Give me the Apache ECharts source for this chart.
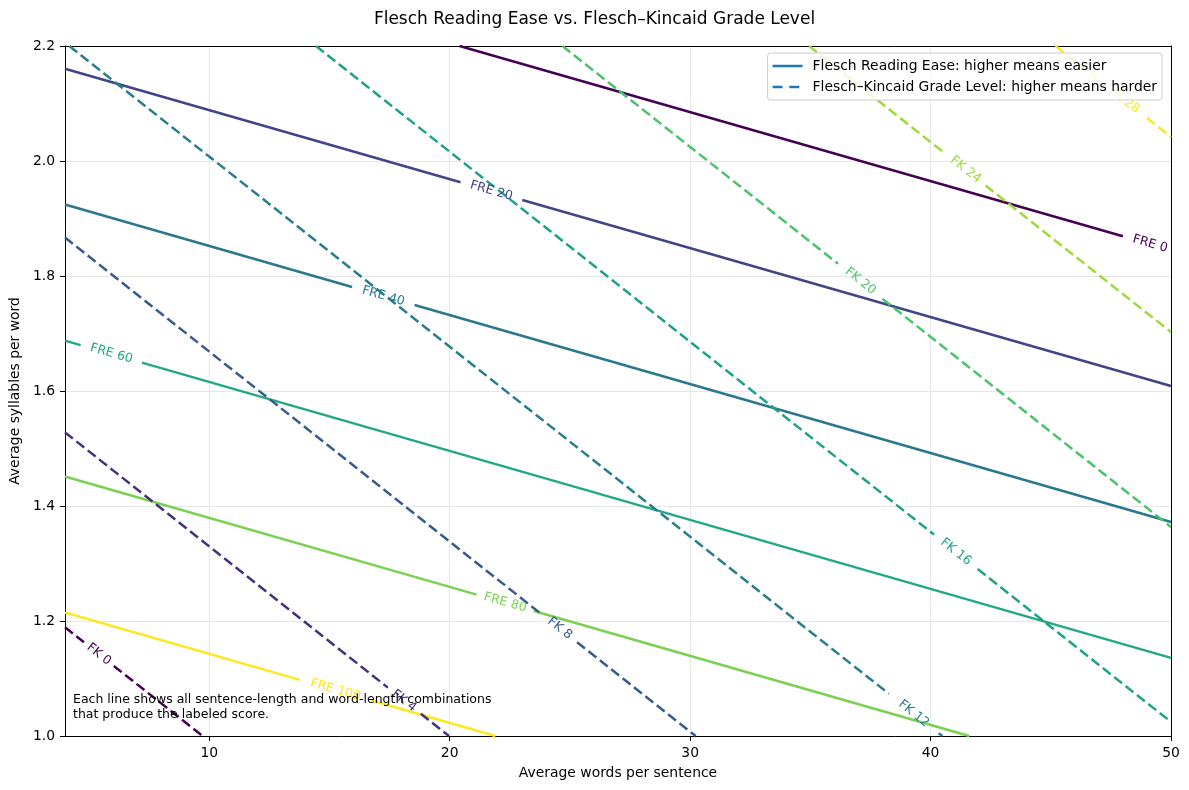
<!DOCTYPE html>
<html lang="en">
<head>
<meta charset="UTF-8">
<title>Flesch Reading Ease vs. Flesch–Kincaid Grade Level</title>
<script src="https://cdn.jsdelivr.net/npm/echarts@6.0.0/dist/echarts.min.js"></script>
<style>
  html, body { margin: 0; padding: 0; background: #fff; }
  #chart { width: 1189px; height: 790px; }
</style>
</head>
<body>
<div id="chart"></div>
<script>
// tick marks on the x axis (axis itself runs from 4 to 50)
var xTicks = [10, 20, 30, 40, 50];

// Flesch Reading Ease contours (solid lines).
// Each line is split where its inline label sits.
var freLabels = ['FRE 0', 'FRE 20', 'FRE 40', 'FRE 60', 'FRE 80', 'FRE 100'];
var freColors = ['#440154', '#414487', '#2a788e', '#22a884', '#7ad151', '#fde725'];
var freSegments = [
    [[[20.41, 2.2], [48.0, 1.869]]],
    [[[4, 2.1605], [20.45, 1.963]], [[23.02, 1.9323], [50, 1.6086]]],
    [[[4, 1.9243], [15.94, 1.7808]], [[18.54, 1.7496], [50, 1.3722]]],
    [[[4, 1.6876], [4.65, 1.6798]], [[7.2, 1.6493], [50, 1.1358]]],
    [[[4, 1.4512], [21.12, 1.2458]], [[23.5, 1.2173], [41.61, 1.0]]],
    [[[4, 1.2148], [13.77, 1.0976]], [[16.72, 1.0622], [21.9, 1.0]]]
];
var freLabelPos = [[49.13, 1.856], [21.73, 1.948], [17.24, 1.765], [5.93, 1.665], [22.31, 1.232], [15.25, 1.080]];

// Flesch–Kincaid Grade Level contours (dashed lines)
var fkLabels = ['FK 0', 'FK 4', 'FK 8', 'FK 12', 'FK 16', 'FK 20', 'FK 24', 'FK 28'];
var fkColors = ['#440154', '#46317e', '#375b8d', '#277f8e', '#1fa188', '#4bc26c', '#a0da39', '#fde725'];
var fkSegments = [
    [[[4, 1.189], [4.79, 1.1629]], [[6.03, 1.1219], [9.72, 1.0]]],
    [[[4, 1.528], [17.43, 1.0841]], [[18.8, 1.0388], [19.97, 1.0]]],
    [[[4, 1.8669], [23.85, 1.2109]], [[25.3, 1.163], [30.23, 1.0]]],
    [[[4.18, 2.2], [38.27, 1.0733]], [[40.34, 1.0049], [40.49, 1.0]]],
    [[[14.44, 2.2], [40.14, 1.3504]], [[41.96, 1.2903], [50, 1.0246]]],
    [[[24.69, 2.2], [36.15, 1.8213]], [[38.0, 1.7602], [50, 1.3636]]],
    [[[34.95, 2.2], [40.63, 2.0122]], [[42.29, 1.9574], [50, 1.7025]]],
    [[[45.2, 2.2], [47.1, 2.1374]], [[49.0, 2.0746], [50, 2.0415]]]
];
var fkLabelPos = [[5.41, 1.142], [18.1, 1.061], [24.58, 1.187], [39.3, 1.039], [41.05, 1.320], [37.08, 1.791], [41.46, 1.985], [48.05, 2.106]];

var freName = 'Flesch Reading Ease: higher means easier';
var fkName = 'Flesch–Kincaid Grade Level: higher means harder';
var noteText = 'Each line shows all sentence-length and word-length combinations\nthat produce the labeled score.';

var FONT = '"DejaVu Sans", "Liberation Sans", sans-serif';
var SOLID = 'solid';
var DASH = [10, 4.5];

var chart = echarts.init(document.getElementById('chart'));

var series = [];
var labelItems = [];

function addContours(segments, colors, texts, positions, dash) {
    segments.forEach(function (segs, i) {
        segs.forEach(function (seg) {
            series.push({
                type: 'line',
                data: seg,
                symbol: 'none',
                silent: true,
                animation: false,
                z: 2,
                lineStyle: { color: colors[i], width: 2.5, type: dash },
                itemStyle: { color: colors[i] }
            });
        });
        // label runs along the line: direction taken from the line's own ends
        var first = segs[0][0];
        var lastSeg = segs[segs.length - 1];
        var last = lastSeg[lastSeg.length - 1];
        labelItems.push({
            value: [positions[i][0], positions[i][1], first[0], first[1], last[0], last[1]],
            text: texts[i],
            color: colors[i]
        });
    });
}

addContours(freSegments, freColors, freLabels, freLabelPos, SOLID);
addContours(fkSegments, fkColors, fkLabels, fkLabelPos, DASH);

// inline contour labels
series.push({
    type: 'custom',
    silent: true,
    animation: false,
    z: 3,
    data: labelItems.map(function (d) { return d.value; }),
    renderItem: function (params, api) {
        var c = api.coord([api.value(0), api.value(1)]);
        var a = api.coord([api.value(2), api.value(3)]);
        var b = api.coord([api.value(4), api.value(5)]);
        var ang = Math.atan2(b[1] - a[1], b[0] - a[0]);
        var item = labelItems[params.dataIndex];
        return {
            type: 'text',
            x: c[0],
            y: c[1],
            rotation: -ang,
            style: {
                text: item.text,
                fill: item.color,
                font: '12.5px ' + FONT,
                align: 'center',
                verticalAlign: 'middle'
            }
        };
    }
});

// empty series only to feed the legend
series.push({
    name: freName, type: 'line', data: [], symbol: 'none',
    itemStyle: { color: '#1f77b4', opacity: 1 },
    lineStyle: { color: '#1f77b4', width: 2.5 }
});
series.push({
    name: fkName, type: 'line', data: [], symbol: 'none',
    itemStyle: { color: '#1f77b4', opacity: 1 },
    lineStyle: { color: '#1f77b4', width: 2.5 }
});

// frame lines on the top and right sides, drawn above the grid lines
var frameAxis = {
    axisLine: { show: true, lineStyle: { color: '#000', width: 1 } },
    axisTick: { show: false },
    axisLabel: { show: false },
    splitLine: { show: false }
};

var option = {
    animation: false,
    backgroundColor: '#fff',
    textStyle: { fontFamily: FONT },
    title: {
        text: 'Flesch Reading Ease vs. Flesch–Kincaid Grade Level',
        left: 'center',
        top: 11,
        padding: 0,
        textStyle: { fontFamily: FONT, fontSize: 17, fontWeight: 'normal', color: '#000' }
    },
    legend: {
        data: [
            { name: freName, icon: 'path://M0,0H30V2.5H0Z' },
            { name: fkName, icon: 'path://M0,0H10V2.5H0ZM16.7,0H26.7V2.5H16.7ZM30,0Z' }
        ],
        orient: 'vertical',
        right: 27,
        top: 53,
        padding: [6, 5, 6, 5],
        itemGap: 7,
        itemWidth: 30,
        itemHeight: 2.5,
        symbolKeepAspect: false,
        backgroundColor: 'rgba(255,255,255,0.8)',
        borderColor: '#cccccc',
        borderWidth: 1,
        borderRadius: 3,
        selectedMode: false,
        z: 10,
        itemStyle: { color: '#1f77b4', opacity: 1, borderWidth: 0 },
        textStyle: { fontFamily: FONT, fontSize: 13.9, color: '#000', padding: [0, 0, 0, 5] }
    },
    grid: {
        left: 61,
        right: 18,
        top: 46,
        bottom: 54,
        show: false
    },
    xAxis: [{
        type: 'value',
        min: 4,
        max: 50,
        splitNumber: 5,
        name: 'Average words per sentence',
        nameLocation: 'middle',
        nameGap: 30,
        nameTextStyle: { fontFamily: FONT, fontSize: 13.9, color: '#000' },
        axisLine: { show: true, lineStyle: { color: '#000', width: 1 } },
        axisTick: { show: true, length: 5, customValues: xTicks, lineStyle: { color: '#000' } },
        axisLabel: { customValues: xTicks, margin: 10, fontFamily: FONT, fontSize: 13.9, color: '#000' },
        splitLine: { show: true, lineStyle: { color: '#e6e6e6', width: 1 } }
    }, Object.assign({ type: 'value', position: 'top', min: 4, max: 50 }, frameAxis)],
    yAxis: [{
        type: 'value',
        min: 1,
        max: 2.2,
        interval: 0.2,
        name: 'Average syllables per word',
        nameLocation: 'middle',
        nameGap: 31,
        nameTextStyle: { fontFamily: FONT, fontSize: 13.9, color: '#000' },
        axisLine: { show: true, lineStyle: { color: '#000', width: 1 } },
        axisTick: { show: true, length: 5, lineStyle: { color: '#000' } },
        axisLabel: {
            margin: 10,
            fontFamily: FONT,
            fontSize: 13.9,
            color: '#000',
            formatter: function (v) { return v.toFixed(1); }
        },
        splitLine: { show: true, lineStyle: { color: '#e6e6e6', width: 1 } }
    }, Object.assign({ type: 'value', position: 'right', min: 1, max: 2.2 }, frameAxis)],
    graphic: [{
        type: 'text',
        left: 73,
        top: 692,
        z: 5,
        style: {
            text: noteText,
            font: '12.5px ' + FONT,
            fill: '#000',
            lineHeight: 15
        }
    }],
    series: series
};

chart.setOption(option);
</script>
</body>
</html>
